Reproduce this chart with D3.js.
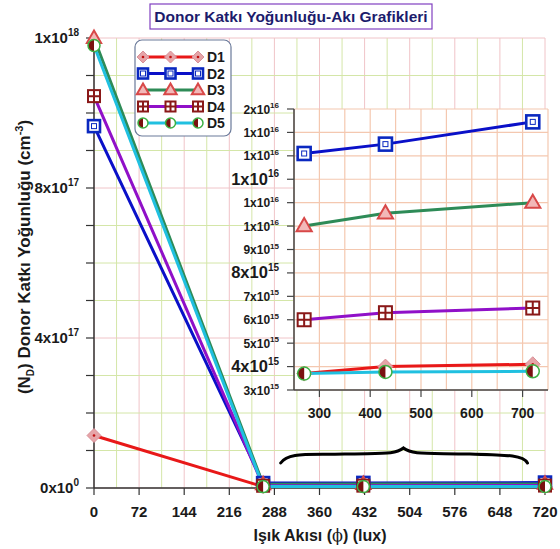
<!DOCTYPE html>
<html><head><meta charset="utf-8">
<script src="https://cdn.jsdelivr.net/npm/d3@7"></script>
<style>
body{margin:0;background:#fff;}
text{font-family:"Liberation Sans",Arial,sans-serif;}
</style></head>
<body><svg id="c" width="560" height="549"></svg>
<script>
// ---- data ----
const fluxLux = [0, 270, 430, 720];
const seriesNames = ["D1","D2","D3","D4","D5"];
const D1 = [1.4e17, 3.7e15, 4.0e15, 4.1e15];
const D2 = [9.65e17, 1.31e16, 1.35e16, 1.445e16];
const D3 = [1.2e18, 1.0e16, 1.055e16, 1.1e16];
const D4 = [1.045e18, 6.0e15, 6.3e15, 6.5e15];
const D5 = [1.18e18, 3.7e15, 3.77e15, 3.8e15];
const mainXTicks = [0,72,144,216,288,360,432,504,576,648,720];
const mainYTicks = [0,4e17,8e17,1.2e18];
const mainYTickText = ["0x10^0","4x10^17","8x10^17","1x10^18"];
const insetXTicks = [300,400,500,600,700];
const insetYTicks = [3e15,4e15,5e15,6e15,7e15,8e15,9e15,1e16,1.1e16,1.2e16,1.3e16,1.4e16,1.5e16];
const insetYTickText = ["3x10^15","4x10^15","5x10^15","6x10^15","7x10^15","8x10^15","9x10^15","1x10^16","1x10^16","1x10^16","1x10^16","1x10^16","2x10^16"];
const insetMajor = [4e15,8e15,1.2e16];
const titleText = "Donor Katkı Yoğunluğu-Akı Grafikleri";

const allSeries = [D1,D2,D3,D4,D5];
const lineColors = ["#e81818","#0a10c8","#2e8b57","#9010c8","#20c0e0"];

const svg = d3.select("#c");
const x = d3.scaleLinear().domain([0,720]).range([94,545]);
const y = d3.scaleLinear().domain([0,1.2e18]).range([488,38]);
const xi = d3.scaleLinear().domain([250,750]).range([294,548]);
const yi = d3.scaleLinear().domain([3e15,1.5e16]).range([390,109]);

// ---- main grid ----
const g = svg.append("g");
d3.range(0,721,36).forEach(v=>{
  g.append("line").attr("x1",x(v)).attr("x2",x(v)).attr("y1",y(1.2e18)).attr("y2",y(0))
   .attr("stroke", v%72===0 ? "#f0c4c8" : "#d4e6a8").attr("stroke-width",1);
});
d3.range(0,12.5,1).forEach(k=>{
  const v=k*1e17;
  g.append("line").attr("x1",x(0)).attr("x2",x(720)).attr("y1",y(v)).attr("y2",y(v))
   .attr("stroke", k%4===0 ? "#f0c4c8" : "#d4e6a8").attr("stroke-width",1);
});

// ---- main axes ----
const ax = svg.append("g");
ax.append("line").attr("x1",x(0)).attr("x2",x(0)).attr("y1",y(1.2e18)).attr("y2",y(0)).attr("stroke","#333").attr("stroke-width",1.5);
ax.append("line").attr("x1",x(0)).attr("x2",x(720)).attr("y1",y(0)).attr("y2",y(0)).attr("stroke","#333").attr("stroke-width",1.5);
d3.range(0,12.5,1).forEach(k=>{
  ax.append("line").attr("x1",x(0)-8).attr("x2",x(0)).attr("y1",y(k*1e17)).attr("y2",y(k*1e17)).attr("stroke","#333").attr("stroke-width",1.2);
});
mainXTicks.forEach(v=>{
  ax.append("line").attr("x1",x(v)).attr("x2",x(v)).attr("y1",y(0)).attr("y2",y(0)+7).attr("stroke","#333").attr("stroke-width",1.2);
  ax.append("text").attr("x",x(v)).attr("y",y(0)+29).attr("text-anchor","middle")
    .attr("font-size",15).attr("font-weight","bold").attr("fill","#1a1a1a").text(v);
});
function sciLabel(sel, str, px, py, fs, supFs){
  const [m,e] = str.split("^");
  const t = sel.append("text").attr("x",px).attr("y",py).attr("text-anchor","end")
     .attr("font-size",fs).attr("font-weight","bold").attr("fill","#1a1a1a");
  t.append("tspan").text(m);
  t.append("tspan").attr("font-size",supFs).attr("dy",-fs*0.45).text(e);
  return t;
}
// axis titles (drawn before tick labels)
const yt = ax.append("text").attr("transform","translate(30,257) rotate(-90)").attr("text-anchor","middle")
  .attr("font-size",17).attr("font-weight","bold").attr("fill","#1a1a1a");
yt.append("tspan").text("(N");
yt.append("tspan").attr("font-size",10).attr("dy",4).text("D");
yt.append("tspan").attr("dy",-4).text(") Donor Katkı Yoğunluğu (cm");
yt.append("tspan").attr("font-size",11).attr("dy",-7).text("-3");
yt.append("tspan").attr("dy",7).text(")");
mainYTicks.forEach((v,i)=>{
  sciLabel(ax, mainYTickText[i], 79, y(v)+5, 15, 10);
});
const xt = ax.append("text").attr("x",320).attr("y",541).attr("text-anchor","middle")
  .attr("font-size",16).attr("font-weight","bold").attr("fill","#1a1a1a");
xt.append("tspan").text("Işık Akısı (");
xt.append("tspan").attr("font-weight","normal").attr("font-family","DejaVu Serif").text("ϕ");
xt.append("tspan").text(") (lux)");

// ---- markers ----
function marker(sel, k, cx, cy, s){
  const m = sel.append("g").attr("transform",`translate(${cx},${cy})`);
  const h = s/2;
  if(k===0){
    m.append("path").attr("d",`M0,${-h-1}L${h+1},0L0,${h+1}L${-h-1},0Z`).attr("fill","#e6a4a8").attr("stroke","#d89098").attr("stroke-width",1);
    m.append("circle").attr("r",1.3).attr("fill","#c01010");
  } else if(k===1){
    m.append("rect").attr("x",-h).attr("y",-h).attr("width",s).attr("height",s).attr("fill","#fff").attr("stroke","#0a28c0").attr("stroke-width",2.6);
    m.append("rect").attr("x",-2.5).attr("y",-2.5).attr("width",5).attr("height",5).attr("fill","none").attr("stroke","#0a28c0").attr("stroke-width",1);
  } else if(k===2){
    const r=h+1.5;
    m.append("path").attr("d",`M0,${-r}L${r*0.95},${r*0.65}L${-r*0.95},${r*0.65}Z`).attr("fill","#f2b8b8").attr("stroke","#d84848").attr("stroke-width",2);
  } else if(k===3){
    m.append("rect").attr("x",-h).attr("y",-h).attr("width",s).attr("height",s).attr("fill","#fff").attr("stroke","#8a1818").attr("stroke-width",2);
    m.append("path").attr("d",`M0,${-h}V${h}M${-h},0H${h}`).attr("stroke","#8a1818").attr("stroke-width",2);
  } else {
    const r=h;
    m.append("circle").attr("r",r).attr("fill","#fff");
    m.append("path").attr("d",`M0,${-r}A${r},${r} 0 0,0 0,${r}Z`).attr("fill","#7a1010");
    m.append("circle").attr("r",r).attr("fill","none").attr("stroke","#3cb043").attr("stroke-width",1.5);
  }
}

// ---- main series ----
const ln = d3.line().x(d=>x(d[0])).y(d=>y(d[1]));
allSeries.forEach((s,k)=>{
  svg.append("path").datum(fluxLux.map((v,i)=>[v,s[i]])).attr("d",ln)
    .attr("fill","none").attr("stroke",lineColors[k]).attr("stroke-width",3);
});
allSeries.forEach((s,k)=>{
  fluxLux.forEach((v,i)=>marker(svg,k,x(v),y(s[i]),12));
});

// ---- brace annotation ----
svg.append("path")
  .attr("d",`M${x(298)},463 C${x(310)},452 ${x(340)},455 ${x(400)},454 C${x(460)},453 ${x(480)},455 ${x(494)},448 C${x(508)},455 ${x(530)},453 ${x(600)},454 C${x(660)},455 ${x(685)},455 ${x(692)},463`)
  .attr("fill","none").attr("stroke","#000").attr("stroke-width",3).attr("stroke-linecap","round");

// ---- legend ----
const lg = svg.append("g");
lg.append("rect").attr("x",135).attr("y",40).attr("width",96).attr("height",96).attr("rx",7)
  .attr("fill","#fff").attr("stroke","#6a7a9a").attr("stroke-width",1.2);
seriesNames.forEach((n,k)=>{
  const ly = 57 + k*16.5;
  lg.append("line").attr("x1",143).attr("x2",198).attr("y1",ly).attr("y2",ly).attr("stroke",lineColors[k]).attr("stroke-width",3);
  [143,170.5,198].forEach(px=>marker(lg,k,px,ly,10));
  lg.append("text").attr("x",207).attr("y",ly+5).attr("font-size",14).attr("font-weight","bold").attr("fill","#1a1a1a").text(n);
});

// ---- inset ----
const ig = svg.append("g");
ig.append("rect").attr("x",xi(250)).attr("y",yi(1.5e16)).attr("width",xi(750)-xi(250)).attr("height",yi(3e15)-yi(1.5e16)).attr("fill","#fff");
d3.range(250,751,50).forEach(v=>{
  ig.append("line").attr("x1",xi(v)).attr("x2",xi(v)).attr("y1",yi(1.5e16)).attr("y2",yi(3e15)).attr("stroke","#f4c8b0").attr("stroke-width",1.2);
});
insetYTicks.forEach(v=>{
  ig.append("line").attr("x1",xi(250)).attr("x2",xi(750)).attr("y1",yi(v)).attr("y2",yi(v)).attr("stroke","#f4c8b0").attr("stroke-width",1.2);
});
ig.append("line").attr("x1",xi(250)).attr("x2",xi(250)).attr("y1",yi(1.5e16)).attr("y2",yi(3e15)).attr("stroke","#444").attr("stroke-width",1.5);
ig.append("line").attr("x1",xi(250)).attr("x2",xi(750)).attr("y1",yi(3e15)).attr("y2",yi(3e15)).attr("stroke","#444").attr("stroke-width",1.5);
insetYTicks.forEach((v,i)=>{
  ig.append("line").attr("x1",xi(250)-7).attr("x2",xi(250)).attr("y1",yi(v)).attr("y2",yi(v)).attr("stroke","#444").attr("stroke-width",1.2);
  const big = insetMajor.includes(v);
  sciLabel(ig, insetYTickText[i], 279, yi(v)+(big?5.5:4.5), big?16.5:12, big?10:8);
});
insetXTicks.forEach(v=>{
  ig.append("line").attr("x1",xi(v)).attr("x2",xi(v)).attr("y1",yi(3e15)).attr("y2",yi(3e15)+7).attr("stroke","#444").attr("stroke-width",1.2);
  ig.append("text").attr("x",xi(v)).attr("y",yi(3e15)+28).attr("text-anchor","middle")
    .attr("font-size",14).attr("font-weight","bold").attr("fill","#1a1a1a").text(v);
});
const lni = d3.line().x(d=>xi(d[0])).y(d=>yi(d[1]));
allSeries.forEach((s,k)=>{
  ig.append("path").datum(fluxLux.slice(1).map((v,i)=>[v,s[i+1]])).attr("d",lni)
    .attr("fill","none").attr("stroke",lineColors[k]).attr("stroke-width",3);
});
allSeries.forEach((s,k)=>{
  fluxLux.slice(1).forEach((v,i)=>marker(ig,k,xi(v),yi(s[i+1]),13));
});

// ---- title ----
svg.append("rect").attr("x",150).attr("y",4).attr("width",282).attr("height",25).attr("fill","#fff").attr("stroke","#8040c0").attr("stroke-width",1.2);
svg.append("text").attr("x",291).attr("y",22).attr("text-anchor","middle").attr("font-size",15.5)
  .attr("font-weight","bold").attr("fill","#1c1c6c").text(titleText);
</script></body></html>
